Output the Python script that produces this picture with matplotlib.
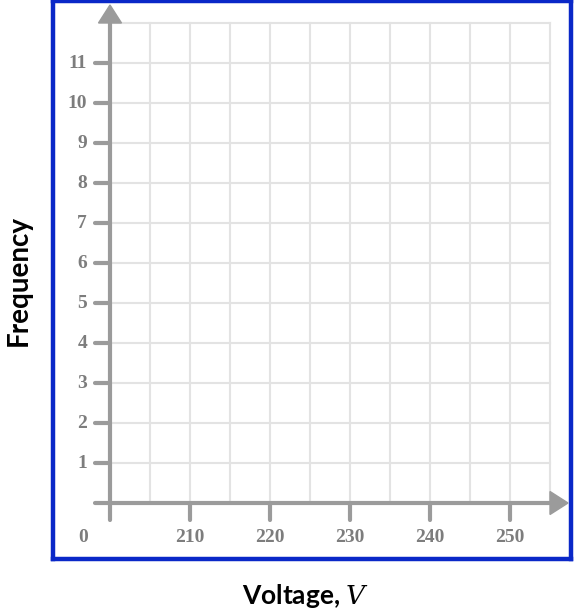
import matplotlib
matplotlib.use('Agg')
from matplotlib import pyplot as plt
from matplotlib.patches import Polygon

# data
x_ticks = [210, 220, 230, 240, 250]
y_ticks = [1, 2, 3, 4, 5, 6, 7, 8, 9, 10, 11]
x_grid = [205, 210, 215, 220, 225, 230, 235, 240, 245, 250, 255]
y_grid = [1, 2, 3, 4, 5, 6, 7, 8, 9, 10, 11, 12]
x_origin = 200
x_max = 255
y_max = 12

W, H = 574, 614
fig = plt.figure(figsize=(W / 100, H / 100), dpi=100)

# axes box = blue frame, pixel coords 53..571 x 1..559
left, right, top, bottom = 53, 571, 1, 559
ax = fig.add_axes([left / W, 1 - bottom / H, (right - left) / W, (bottom - top) / H])
px_x = 8.0   # pixels per volt
px_y = 40.0  # pixels per unit of frequency
ax.set_xlim(x_origin - (110 - left) / px_x, x_origin + (right - 110) / px_x)
ax.set_ylim(-(bottom - 503) / px_y, (503 - top) / px_y)
ax.set_xticks([])
ax.set_yticks([])
for s in ax.spines.values():
    s.set_color('#0a28c8')
    s.set_linewidth(3.2)

grid_c = '#e3e3e3'
axis_c = '#9b9b9b'
for gx in x_grid:
    ax.plot([gx, gx], [0, y_max], color=grid_c, lw=1.5, zorder=1)
for gy in y_grid:
    ax.plot([x_origin, x_max], [gy, gy], color=grid_c, lw=1.5, zorder=1)

# axes lines
ax.plot([x_origin, x_origin], [-17 / px_y, y_max], color=axis_c, lw=3, zorder=3, solid_capstyle='round')
ax.plot([x_origin - 15 / px_x, x_max], [0, 0], color=axis_c, lw=3, zorder=3, solid_capstyle='round')

# arrow heads
ax.add_patch(Polygon([[x_origin - 11.5 / px_x, y_max], [x_origin + 11.5 / px_x, y_max],
                      [x_origin, y_max + 18 / px_y]], closed=True, color=axis_c, zorder=4))
ax.add_patch(Polygon([[x_max, 11.5 / px_y], [x_max, -11.5 / px_y],
                      [x_max + 18 / px_x, 0]], closed=True, color=axis_c, zorder=4))

tick_font = dict(family='Liberation Serif', weight='bold', color='#7d7d7d', fontsize=14)

for t in y_ticks:
    ax.plot([x_origin - 15 / px_x, x_origin], [t, t], color=axis_c, lw=3, zorder=3, solid_capstyle='round')
    ax.text(x_origin - 23 / px_x, t, str(t), ha='right', va='center', **tick_font)

for t in x_ticks:
    ax.plot([t, t], [0, -17 / px_y], color=axis_c, lw=3, zorder=3, solid_capstyle='round')
    ax.text(t, -35 / px_y, str(t), ha='center', va='center', **tick_font)

ax.text(x_origin - 27 / px_x, -35 / px_y, '0', ha='center', va='center', **tick_font)

fig.text(19 / W, 1 - 280 / H, 'Frequency', rotation=90, ha='center', va='center',
         family='Lato', weight='bold', fontsize=20, color='black')
fig.text(306 / W, 1 - 596 / H, r'Voltage, $V$', ha='center', va='center',
         family='Lato', weight='bold', fontsize=19, color='black', math_fontfamily='dejavuserif')

fig.savefig('out.png', dpi=100)
